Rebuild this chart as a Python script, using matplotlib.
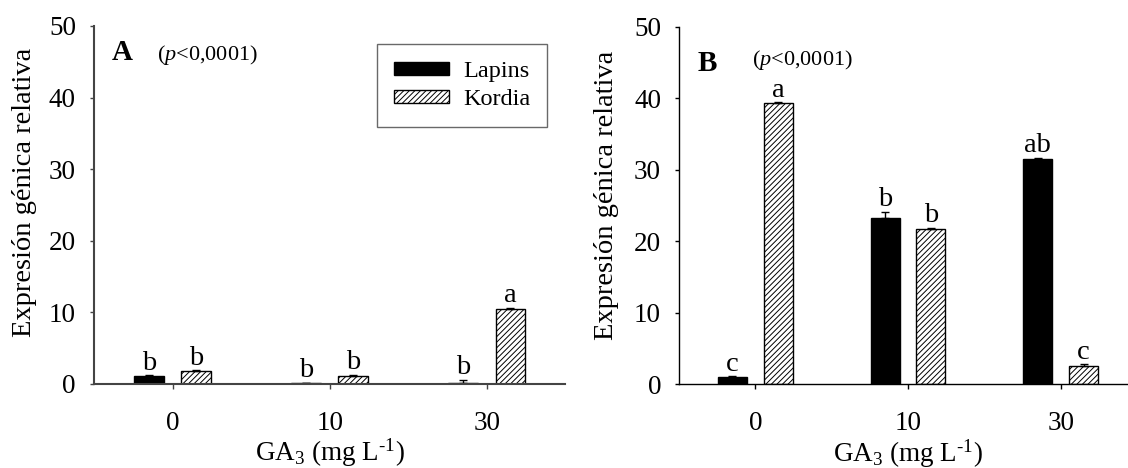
import numpy as np
import matplotlib
matplotlib.use("Agg")
import matplotlib.pyplot as plt
from matplotlib.patches import Patch

plt.rcParams["font.family"] = ["Liberation Serif", "DejaVu Serif"]
plt.rcParams["mathtext.fontset"] = "custom"
plt.rcParams["mathtext.rm"] = "Liberation Serif"
plt.rcParams["mathtext.it"] = "Liberation Serif:italic"
plt.rcParams["hatch.linewidth"] = 0.7

# GA3 doses and series
doses = ["0", "10", "30"]
series = ["Lapins", "Kordia"]

# panel A
lapins_a = [1.1, 0.1, 0.1]
lapins_a_err = [0.1, 0.1, 0.45]
kordia_a = [1.8, 1.1, 10.5]
kordia_a_err = [0.1, 0.15, 0.15]
letters_lapins_a = ["b", "b", "b"]
letters_kordia_a = ["b", "b", "a"]

# panel B
lapins_b = [1.0, 23.3, 31.5]
lapins_b_err = [0.1, 0.8, 0.15]
kordia_b = [39.3, 21.7, 2.5]
kordia_b_err = [0.1, 0.15, 0.3]
letters_lapins_b = ["c", "b", "ab"]
letters_kordia_b = ["a", "b", "c"]

yticks = [0, 10, 20, 30, 40, 50]
ylabel = "Expresión génica relativa"
xlabel = "GA$_3$ (mg L$^{\u2010\\mathrm{1}}$)"
ptext = "($p$<0,0001)"

fs = 19.5
bw = 0.19
off = 0.15

fig = plt.figure(figsize=(11.28, 4.68), dpi=100)
ax_a = fig.add_axes([0.0833, 0.1795, 0.418, 0.765])
ax_b = fig.add_axes([0.602, 0.1788, 0.406, 0.7645])


def draw_panel(ax, lap, lap_err, kor, kor_err, let_l, let_k, spine_color, spine_lw):
    x = np.arange(len(doses))
    ax.bar(x - off, lap, bw, color="black", edgecolor="black", linewidth=1)
    ax.bar(x + off, kor, bw, color="white", edgecolor="black", linewidth=1, hatch="//////")
    zeros = np.zeros(len(doses))
    ax.errorbar(x - off, lap, yerr=[zeros, lap_err], fmt="none", ecolor="black",
                elinewidth=1, capsize=3, capthick=1)
    ax.errorbar(x + off, kor, yerr=[zeros, kor_err], fmt="none", ecolor="black",
                elinewidth=1, capsize=3, capthick=1)
    for i in range(len(doses)):
        ax.text(x[i] - off, lap[i] + lap_err[i] + 0.8, let_l[i], ha="center", va="baseline", fontsize=20.5)
        ax.text(x[i] + off, kor[i] + kor_err[i] + 0.8, let_k[i], ha="center", va="baseline", fontsize=20.5)

    ax.set_xlim(-0.5, 2.5)
    ax.set_ylim(0, 50)
    ax.set_xticks(x)
    ax.set_xticklabels(doses)
    ax.set_yticks(yticks)
    ax.tick_params(axis="x", direction="out", length=3.5, width=1, pad=16, labelsize=fs, color=spine_color)
    ax.tick_params(axis="y", direction="out", length=3, width=1, pad=10, labelsize=fs, color=spine_color)
    for s in ["top", "right"]:
        ax.spines[s].set_visible(False)
    for s in ["left", "bottom"]:
        ax.spines[s].set_color(spine_color)
        ax.spines[s].set_linewidth(spine_lw)
    ax.set_xlabel(xlabel, fontsize=fs)
    ax.set_ylabel(ylabel, fontsize=20.5)


draw_panel(ax_a, lapins_a, lapins_a_err, kordia_a, kordia_a_err,
           letters_lapins_a, letters_kordia_a, "#444444", 1.5)
draw_panel(ax_b, lapins_b, lapins_b_err, kordia_b, kordia_b_err,
           letters_lapins_b, letters_kordia_b, "black", 1.0)

ax_a.xaxis.set_label_coords(0.5, -0.148)
ax_b.xaxis.set_label_coords(0.5, -0.148)
ax_a.yaxis.set_label_coords(-0.121, 0.535)
ax_b.yaxis.set_label_coords(-0.131, 0.527)

ax_a.text(0.038, 0.927, "A", transform=ax_a.transAxes, fontsize=21, fontweight="bold", va="center", ha="left")
ax_a.text(0.134, 0.919, ptext, transform=ax_a.transAxes, fontsize=16, va="center", ha="left")
ax_b.text(0.0415, 0.896, "B", transform=ax_b.transAxes, fontsize=21, fontweight="bold", va="center", ha="left")
ax_b.text(0.159, 0.907, ptext, transform=ax_b.transAxes, fontsize=16, va="center", ha="left")

handles = [Patch(facecolor="black", edgecolor="black", label=series[0]),
           Patch(facecolor="white", edgecolor="black", hatch="//////", label=series[1])]
leg = ax_a.legend(handles=handles, loc="upper right", bbox_to_anchor=(0.961, 0.950),
                  borderaxespad=0, fontsize=17.5, frameon=True, fancybox=False,
                  handlelength=2.3, handleheight=0.42, handletextpad=0.55,
                  labelspacing=0.3, borderpad=0.7)
leg.get_frame().set_edgecolor("#444444")
leg.get_frame().set_linewidth(1.0)

plt.savefig("out.png", dpi=100)
